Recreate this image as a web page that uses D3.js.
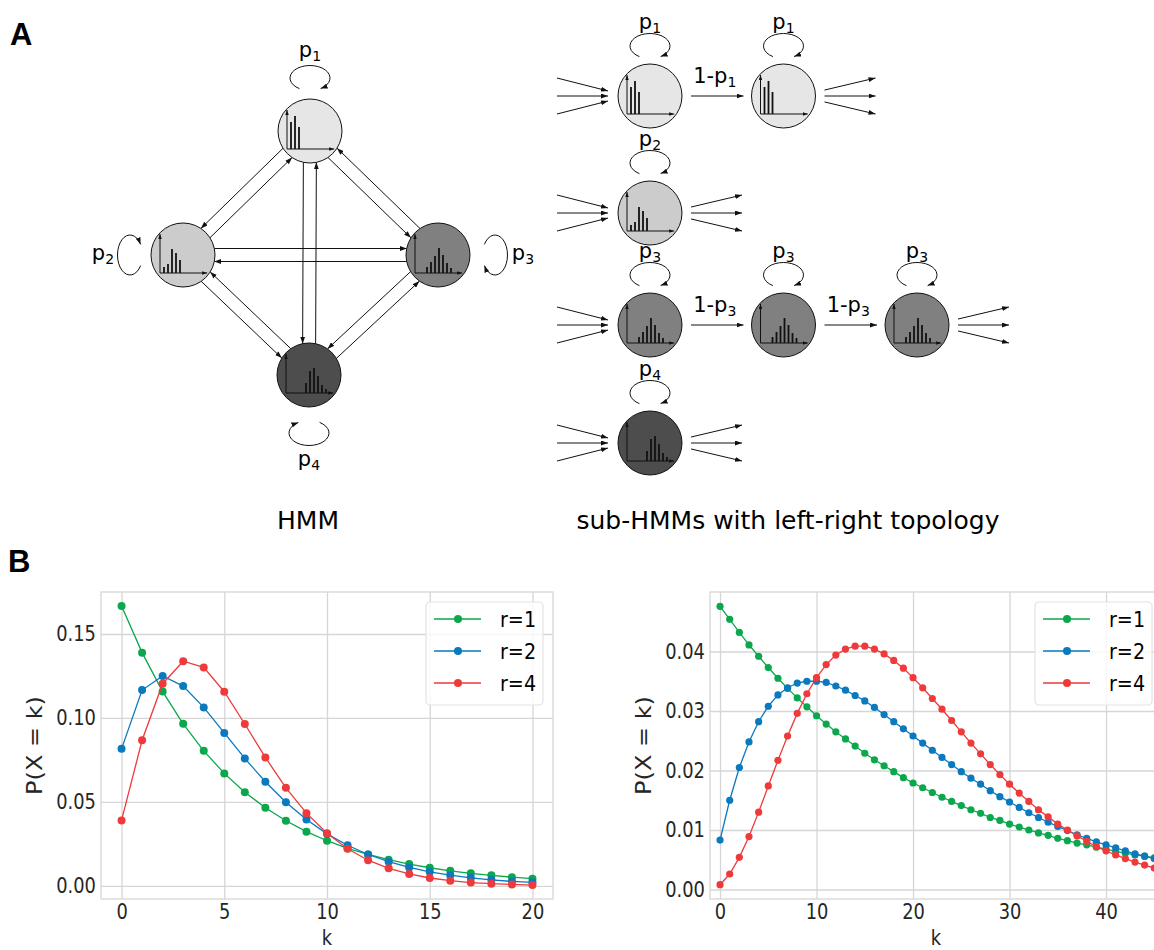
<!DOCTYPE html>
<html>
<head>
<meta charset="utf-8">
<script src="https://cdn.jsdelivr.net/npm/d3@7"></script>
<style>
  body { margin: 0; background: #fff; }
  svg { display: block; font-family: "DejaVu Sans", sans-serif; }
</style>
</head>
<body>
<script>
// ---- data: panel B, negative binomial pmf (index = k)
const seriesNames = ["r=1", "r=2", "r=4"];
const seriesColors = ["#0aa74d", "#0a79be", "#ee3a3b"];

const leftR1 = [0.1667,0.1389,0.1157,0.0965,0.0804,0.0670,0.0558,0.0465,0.0388,0.0323,0.0269,0.0224,0.0187,0.0156,0.0130,0.0108,0.0090,0.0075,0.0063,0.0052,0.0043];
const leftR2 = [0.0816,0.1166,0.1250,0.1190,0.1063,0.0911,0.0759,0.0620,0.0498,0.0395,0.0310,0.0242,0.0187,0.0144,0.0110,0.0084,0.0064,0.0048,0.0036,0.0027,0.0021];
const leftR4 = [0.0390,0.0867,0.1204,0.1338,0.1301,0.1156,0.0964,0.0765,0.0584,0.0433,0.0313,0.0221,0.0153,0.0105,0.0071,0.0047,0.0031,0.0020,0.0013,0.0009,0.0005];

const rightR1 = [0.0476,0.0454,0.0432,0.0411,0.0392,0.0373,0.0355,0.0338,0.0322,0.0307,0.0292,0.0278,0.0265,0.0253,0.0241,0.0229,0.0218,0.0208,0.0198,0.0188,0.0179,0.0171,0.0163,0.0155,0.0148,0.0141,0.0134,0.0128,0.0121,0.0116,0.0110,0.0105,0.0100,0.0095,0.0091,0.0086,0.0082,0.0078,0.0075,0.0071,0.0068,0.0064,0.0061,0.0058,0.0056,0.0053,0.0050,0.0048,0.0046,0.0044,0.0042];
const rightR2 = [0.0083,0.0150,0.0205,0.0248,0.0282,0.0308,0.0327,0.0339,0.0347,0.0350,0.0350,0.0348,0.0342,0.0335,0.0326,0.0317,0.0306,0.0294,0.0282,0.0270,0.0258,0.0246,0.0234,0.0222,0.0210,0.0198,0.0187,0.0177,0.0166,0.0156,0.0147,0.0138,0.0129,0.0121,0.0113,0.0106,0.0099,0.0092,0.0086,0.0080,0.0075,0.0070,0.0065,0.0060,0.0056,0.0052,0.0048,0.0045,0.0042,0.0039,0.0036];
const rightR4 = [0.0008,0.0026,0.0054,0.0089,0.0130,0.0174,0.0217,0.0258,0.0296,0.0329,0.0356,0.0378,0.0394,0.0404,0.0409,0.0409,0.0404,0.0396,0.0385,0.0372,0.0356,0.0339,0.0321,0.0303,0.0284,0.0265,0.0246,0.0228,0.0210,0.0193,0.0177,0.0162,0.0148,0.0134,0.0122,0.0110,0.0100,0.0090,0.0081,0.0072,0.0065,0.0058,0.0052,0.0046,0.0041,0.0036,0.0032,0.0029,0.0025,0.0023,0.0020];

const leftXTicks = [0, 5, 10, 15, 20];
const leftYTicks = [0, 0.05, 0.10, 0.15];
const rightXTicks = [0, 10, 20, 30, 40];
const rightYTicks = [0, 0.01, 0.02, 0.03, 0.04];

// ---- data: panel A, the four states
const stateFills = ["#e6e6e6", "#cccccc", "#808080", "#4d4d4d"];
// emission histogram of each state, bar heights by k (k starts at 1)
const stateHist = [
  [27, 33, 22],
  [6, 9, 24, 20, 13],
  [0, 0, 6, 11, 17, 25, 18, 10, 5],
  [0, 0, 0, 0, 10, 22, 25, 17, 8, 4]
];
const loopLabels = ["1", "2", "3", "4"];
// sub-HMM rows: which state each node of a row shows
const subRows = [[0, 0], [1], [2, 2, 2], [3]];

// ---- layout
const W = 1154, H = 950, R = 32;
const INK = "#111";
const GRID = "#d6d6d6";
const TXT = "#262626";

const svg = d3.select("body").append("svg").attr("width", W).attr("height", H);
const defs = svg.append("defs");

function addMarker(id, len, wid) {
  defs.append("marker")
    .attr("id", id)
    .attr("viewBox", "0 0 10 10")
    .attr("preserveAspectRatio", "none")
    .attr("refX", 10).attr("refY", 5)
    .attr("markerUnits", "userSpaceOnUse")
    .attr("markerWidth", len).attr("markerHeight", wid)
    .attr("orient", "auto")
    .append("path").attr("d", "M0,0L10,5L0,10Z").attr("fill", INK);
}
addMarker("arr", 7, 5);
addMarker("arrS", 5, 3.5);

const diag = svg.append("g");

function arrow(x1, y1, x2, y2) {
  diag.append("line")
    .attr("x1", x1).attr("y1", y1).attr("x2", x2).attr("y2", y2)
    .attr("stroke", INK).attr("stroke-width", 1)
    .attr("marker-end", "url(#arr)");
}

function pLabel(x, y, pre, sub) {
  const t = diag.append("text")
    .attr("x", x).attr("y", y)
    .attr("text-anchor", "middle")
    .attr("font-size", 21).attr("fill", "#000");
  t.append("tspan").text(pre);
  t.append("tspan").attr("font-size", 14).attr("dy", 4).text(sub);
}

function drawNode(cx, cy, s) {
  diag.append("circle")
    .attr("cx", cx).attr("cy", cy).attr("r", R)
    .attr("fill", stateFills[s]).attr("stroke", INK).attr("stroke-width", 1);
  const hx = d3.scaleLinear().domain([0, 12]).range([cx - 23, cx + 25]);
  const hy = d3.scaleLinear().domain([0, 40]).range([cy + 18, cy - 22]);
  // axes of the little histogram
  diag.append("line").attr("x1", hx(0)).attr("y1", hy(0)).attr("x2", hx(0)).attr("y2", hy(39))
    .attr("stroke", INK).attr("stroke-width", 1).attr("marker-end", "url(#arrS)");
  diag.append("line").attr("x1", hx(0)).attr("y1", hy(0)).attr("x2", hx(11.8)).attr("y2", hy(0))
    .attr("stroke", INK).attr("stroke-width", 1).attr("marker-end", "url(#arrS)");
  diag.append("g").selectAll("line")
    .data(stateHist[s].map((h, i) => ({k: i + 1, h})).filter(d => d.h > 0))
    .enter().append("line")
    .attr("x1", d => hx(d.k)).attr("x2", d => hx(d.k))
    .attr("y1", hy(0)).attr("y2", d => hy(d.h))
    .attr("stroke", INK).attr("stroke-width", 1.8);
}

// self transition loop: (dx,dy) unit direction away from the node
function selfLoop(cx, cy, dx, dy, dist) {
  const a = 20, b = 12.5, phi = 58 * Math.PI / 180;
  const lx = cx + dx * dist, ly = cy + dy * dist;
  const tx = -dy, ty = dx;
  const rad = b * Math.sin(phi), tan = a * Math.cos(phi);
  const sx = lx - dx * rad - tx * tan, sy = ly - dy * rad - ty * tan;
  const ex = lx - dx * rad + tx * tan, ey = ly - dy * rad + ty * tan;
  const rot = Math.atan2(ty, tx) * 180 / Math.PI;
  diag.append("path")
    .attr("d", `M${sx},${sy}A${a},${b} ${rot} 1 1 ${ex},${ey}`)
    .attr("fill", "none").attr("stroke", INK).attr("stroke-width", 1)
    .attr("marker-end", "url(#arr)");
}

// ---- A: full HMM
const hmmPos = [[310, 131], [183, 255], [438, 255], [309, 375]];
const hmmPairs = [[0, 1, 1], [0, 2, 1], [0, 3, 1], [1, 2, -1], [1, 3, 1], [2, 3, 1]];
hmmPairs.forEach(([a, b, side]) => {
  const [ax, ay] = hmmPos[a], [bx, by] = hmmPos[b];
  const L = Math.hypot(bx - ax, by - ay);
  const ux = (bx - ax) / L, uy = (by - ay) / L, nx = -uy, ny = ux;
  const d = 6.5, e = Math.sqrt(R * R - d * d);
  const ox = nx * d * side, oy = ny * d * side;
  arrow(ax + ux * e + ox, ay + uy * e + oy, bx - ux * e + ox, by - uy * e + oy);
  arrow(bx - ux * e - ox, by - uy * e - oy, ax + ux * e - ox, ay + uy * e - oy);
});
hmmPos.forEach(([x, y], i) => drawNode(x, y, i));

const hmmLoops = [
  {dx: 0, dy: -1, dist: 53, lx: 0, ly: -74},
  {dx: -1, dy: 0, dist: 53, lx: -80, ly: 5},
  {dx: 1, dy: 0, dist: 57, lx: 85, ly: 5},
  {dx: 0, dy: 1, dist: 58, lx: 0, ly: 91}
];
hmmLoops.forEach((l, i) => {
  const [x, y] = hmmPos[i];
  selfLoop(x, y, l.dx, l.dy, l.dist);
  pLabel(x + l.lx, y + l.ly, "p", loopLabels[i]);
});

// ---- A: sub-HMMs with left-right topology
const subX = [650, 783.5, 917];
const subY = [96, 213, 325, 443];
subRows.forEach((row, ri) => {
  const cy = subY[ri];
  // incoming
  [-18, 0, 18].forEach(o => arrow(subX[0] - 93, cy + o, subX[0] - 42, cy + o * 0.28));
  row.forEach((s, j) => {
    const cx = subX[j];
    drawNode(cx, cy, s);
    selfLoop(cx, cy, 0, -1, 50);
    pLabel(cx, cy - 67, "p", loopLabels[s]);
    if (j < row.length - 1) {
      arrow(cx + 41, cy, subX[j + 1] - 40, cy);
      pLabel((cx + subX[j + 1]) / 2 - 2, cy - 13, "1-p", loopLabels[s]);
    }
  });
  const lx = subX[row.length - 1];
  [-18, 0, 18].forEach(o => arrow(lx + 41, cy + o * 0.33, lx + 92, cy + o));
});

diag.append("text").attr("x", 308).attr("y", 529).attr("text-anchor", "middle")
  .attr("font-size", 25).text("HMM");
diag.append("text").attr("x", 788).attr("y", 529).attr("text-anchor", "middle")
  .attr("font-size", 25).text("sub-HMMs with left-right topology");

svg.append("text").attr("x", 10).attr("y", 45)
  .attr("font-family", "Liberation Sans, sans-serif").attr("font-weight", "bold")
  .attr("font-size", 31).text("A");
svg.append("text").attr("x", 8).attr("y", 572)
  .attr("font-family", "Liberation Sans, sans-serif").attr("font-weight", "bold")
  .attr("font-size", 31).text("B");

// ---- B: line charts
function drawChart(o) {
  const x = d3.scaleLinear().domain(o.xDom).range([o.left, o.right]);
  const y = d3.scaleLinear().domain(o.yDom).range([o.bottom, o.top]);
  const g = svg.append("g");
  const h = o.bottom - o.top, w = o.right - o.left;

  // grid
  g.append("g").attr("transform", `translate(0,${o.bottom})`)
    .call(d3.axisBottom(x).tickValues(o.xTicks).tickSize(-h).tickFormat(""))
    .call(a => a.select(".domain").remove())
    .selectAll("line").attr("stroke", GRID).attr("stroke-width", 1.3);
  g.append("g").attr("transform", `translate(${o.left},0)`)
    .call(d3.axisLeft(y).tickValues(o.yTicks).tickSize(-w).tickFormat(""))
    .call(a => a.select(".domain").remove())
    .selectAll("line").attr("stroke", GRID).attr("stroke-width", 1.3);
  g.append("rect").attr("x", o.left).attr("y", o.top).attr("width", w).attr("height", h)
    .attr("fill", "none").attr("stroke", GRID).attr("stroke-width", 1.3);

  // tick labels
  const xa = g.append("g").attr("transform", `translate(0,${o.bottom})`)
    .call(d3.axisBottom(x).tickValues(o.xTicks).tickSize(0).tickPadding(5).tickFormat(d3.format("d")));
  xa.select(".domain").remove();
  const ya = g.append("g").attr("transform", `translate(${o.left},0)`)
    .call(d3.axisLeft(y).tickValues(o.yTicks).tickSize(0).tickPadding(6).tickFormat(d3.format(".2f")));
  ya.select(".domain").remove();
  g.selectAll(".tick text")
    .attr("font-family", "DejaVu Sans, sans-serif").attr("font-size", 21)
    .attr("fill", TXT).attr("transform", "scale(0.85,1)");

  // axis titles
  g.append("text").attr("text-anchor", "middle")
    .attr("transform", `translate(${(o.left + o.right) / 2},944.5) scale(0.85,1)`)
    .attr("font-size", 21).attr("fill", TXT).text("k");
  g.append("text").attr("text-anchor", "middle")
    .attr("transform", `translate(${o.ylabX},${(o.top + o.bottom) / 2}) rotate(-90) scale(1,0.85)`)
    .attr("dy", "0.35em")
    .attr("font-size", 24).attr("fill", TXT).text("P(X = k)");

  // series
  const clipId = "clip" + o.id;
  defs.append("clipPath").attr("id", clipId).append("rect")
    .attr("x", o.left).attr("y", o.top).attr("width", w).attr("height", h);
  const plot = g.append("g").attr("clip-path", `url(#${clipId})`);
  const line = d3.line().x((d, i) => x(i)).y(d => y(d));
  o.series.forEach((vals, si) => {
    const sg = plot.append("g");
    sg.append("path").datum(vals).attr("d", line)
      .attr("fill", "none").attr("stroke", seriesColors[si]).attr("stroke-width", 1.3);
    sg.selectAll("circle").data(vals).enter().append("circle")
      .attr("cx", (d, i) => x(i)).attr("cy", d => y(d)).attr("r", o.dot)
      .attr("fill", seriesColors[si]);
  });

  // legend
  const lgX = o.right - 10 - 117, lgY = o.top + 10;
  const lg = g.append("g").attr("transform", `translate(${lgX},${lgY})`);
  lg.append("rect").attr("width", 117).attr("height", 103).attr("rx", 4)
    .attr("fill", "#fff").attr("fill-opacity", 0.8).attr("stroke", "#e3e3e3").attr("stroke-width", 1.2);
  seriesNames.forEach((name, i) => {
    const yy = 17 + i * 32;
    lg.append("line").attr("x1", 8).attr("x2", 55).attr("y1", yy).attr("y2", yy)
      .attr("stroke", seriesColors[i]).attr("stroke-width", 1.3);
    lg.append("circle").attr("cx", 32).attr("cy", yy).attr("r", 4).attr("fill", seriesColors[i]);
    lg.append("text").attr("transform", `translate(74,${yy}) scale(0.87,1)`).attr("dy", "0.36em")
      .attr("font-size", 22).attr("fill", "#000").text(name);
  });
}

drawChart({
  id: "L", left: 101, right: 553, top: 592, bottom: 899,
  xDom: [-1, 21], yDom: [-0.0078, 0.175],
  xTicks: leftXTicks, yTicks: leftYTicks,
  series: [leftR1, leftR2, leftR4], dot: 4, ylabX: 35
});
drawChart({
  id: "R", left: 710, right: 1162, top: 592, bottom: 899,
  xDom: [-1.04, 45.8], yDom: [-0.0016, 0.0500],
  xTicks: rightXTicks, yTicks: rightYTicks,
  series: [rightR1, rightR2, rightR4], dot: 3.6, ylabX: 644
});
</script>
</body>
</html>
